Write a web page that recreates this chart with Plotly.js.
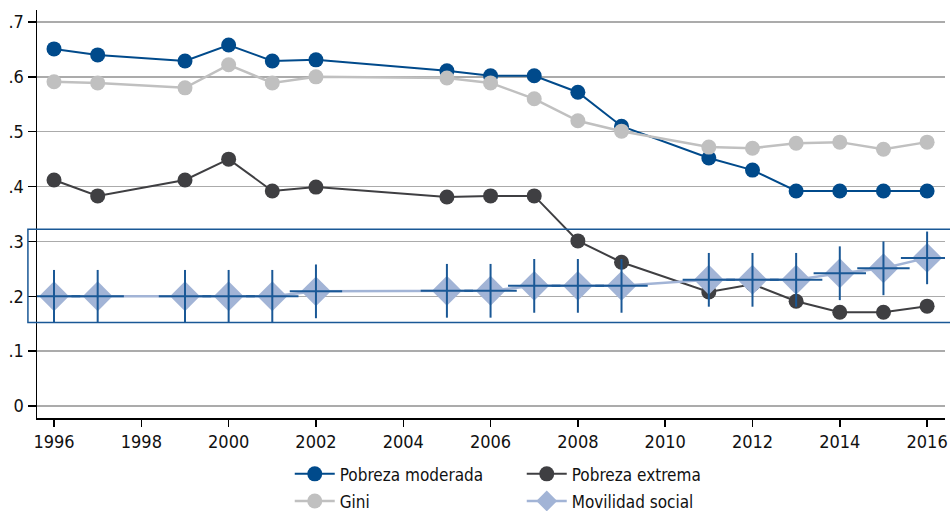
<!DOCTYPE html>
<html><head><meta charset="utf-8">
<script src="https://cdn.plot.ly/plotly-3.0.1.min.js"></script>
<style>body{margin:0;background:#fff}#chart{width:950px;height:511px}</style>
</head><body><div id="chart"></div>
<script>
const years = [1996,1997,1999,2000,2001,2002,2005,2006,2007,2008,2009,2011,2012,2013,2014,2015,2016];
const pobrezaModerada = [0.651,0.640,0.629,0.658,0.629,0.631,0.611,0.602,0.602,0.572,0.510,0.452,0.430,0.392,0.392,0.392,0.392];
const gini = [0.591,0.589,0.580,0.622,0.589,0.600,0.598,0.589,0.560,0.520,0.501,0.472,0.470,0.479,0.481,0.468,0.481];
const pobrezaExtrema = [0.412,0.383,0.412,0.450,0.392,0.399,0.381,0.383,0.383,0.301,0.262,0.208,0.222,0.191,0.171,0.171,0.182];
const movilidad = [0.200,0.200,0.200,0.200,0.200,0.209,0.210,0.210,0.219,0.219,0.219,0.230,0.230,0.230,0.242,0.251,0.270];
const movilidadErrY = [0.048,0.048,0.048,0.048,0.048,0.049,0.049,0.049,0.049,0.049,0.049,0.049,0.049,0.049,0.049,0.049,0.048];
const movilidadErrX = [0.6,0.6,0.6,0.6,0.6,0.6,0.6,0.6,0.6,0.6,0.6,0.6,0.6,0.6,0.6,0.6,0.6];
const yTickVals = [0,0.1,0.2,0.3,0.4,0.5,0.6,0.7];
const yTickText = ['0','.1','.2','.3','.4','.5','.6','.7'];
const xTickVals = [1996,1998,2000,2002,2004,2006,2008,2010,2012,2014,2016];

const FONT = '"Liberation Sans Narrow", "DejaVu Sans Condensed", "Liberation Sans", sans-serif';
const cMod = '#004a8b', cGini = '#c0c0c0', cExt = '#3f3f42', cMov = '#a2b4d6', cErr = '#1a5896';

const traces = [
  {x: years, y: pobrezaModerada, name: 'Pobreza moderada', mode: 'lines+markers', legend: 'legend', legendrank: 1,
   line: {color: cMod, width: 2}, marker: {color: cMod, size: 15, symbol: 'circle'}},
  {x: years, y: pobrezaExtrema, name: 'Pobreza extrema', mode: 'lines+markers', legend: 'legend', legendrank: 2,
   line: {color: cExt, width: 2}, marker: {color: cExt, size: 15, symbol: 'circle'}},
  {x: years, y: gini, name: 'Gini', mode: 'lines+markers', legend: 'legend2', legendrank: 1,
   line: {color: cGini, width: 2.5}, marker: {color: cGini, size: 15, symbol: 'circle'}},
  {x: years, y: movilidad, name: 'Movilidad social', mode: 'lines+markers', legend: 'legend2', legendrank: 2,
   line: {color: cMov, width: 2.5}, marker: {color: cMov, size: 23, symbol: 'diamond'}},
  {x: years, y: movilidad, name: 'err', mode: 'markers', showlegend: false, hoverinfo: 'skip',
   marker: {size: 1, opacity: 0},
   error_y: {type: 'data', array: movilidadErrY, visible: true, color: cErr, thickness: 2, width: 0},
   error_x: {type: 'data', array: movilidadErrX, visible: true, color: cErr, thickness: 2, width: 0}}
];

const legendCommon = {orientation: 'h', xanchor: 'left', yanchor: 'top', entrywidth: 177, entrywidthmode: 'pixels',
  font: {family: FONT, size: 17, color: '#111'}, bgcolor: 'rgba(0,0,0,0)', borderwidth: 0, itemwidth: 40,
  xref: 'container', yref: 'container'};

const layout = {
  width: 950, height: 511,
  margin: {l: 37, r: 5, t: 10, b: 93, autoexpand: false},
  paper_bgcolor: '#fff', plot_bgcolor: '#fff',
  font: {family: FONT, size: 18, color: '#111'},
  showlegend: true,
  xaxis: {range: [1995.61, 2016.41], tickmode: 'array', tickvals: xTickVals, ticks: 'outside', ticklen: 7, tickwidth: 1.5,
    tickcolor: '#000', showline: true, linecolor: '#000', linewidth: 1.5, showgrid: false, zeroline: false,
    tickfont: {family: FONT, size: 18, color: '#111'}},
  yaxis: {range: [-0.0219, 0.7219], tickmode: 'array', tickvals: yTickVals, ticktext: yTickText, ticks: 'outside', ticklen: 8,
    tickwidth: 1.5, tickcolor: '#000', showline: true, linecolor: '#000', linewidth: 1.5, showgrid: true, gridcolor: '#ababab',
    gridwidth: 1.5, zeroline: false, tickfont: {family: FONT, size: 18, color: '#111'}},
  legend: Object.assign({}, legendCommon, {x: 0.305, y: 0.107}),
  legend2: Object.assign({}, legendCommon, {x: 0.305, y: 0.054}),
  shapes: [{type: 'rect', xref: 'paper', yref: 'y', x0: -0.01, x1: 1.02, y0: 0.152, y1: 0.322,
    line: {color: '#1a5896', width: 1.5}, fillcolor: 'rgba(0,0,0,0)', layer: 'above'}]
};

Plotly.newPlot('chart', traces, layout, {displayModeBar: false, staticPlot: true});
</script></body></html>
